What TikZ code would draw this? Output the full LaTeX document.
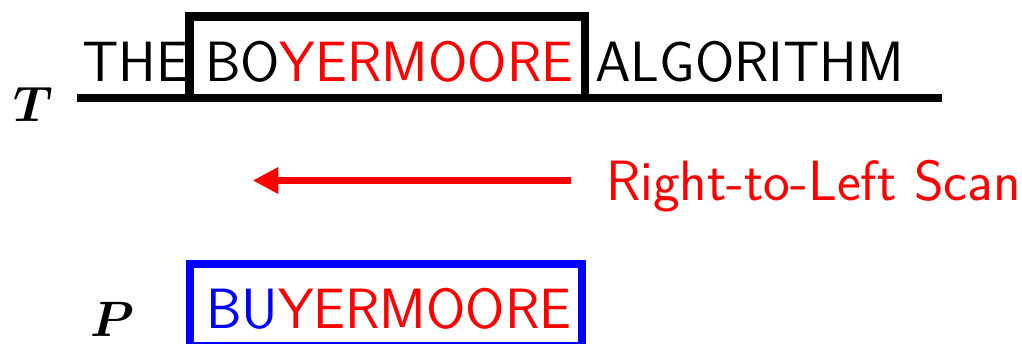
\documentclass[tikz,border=0pt]{standalone}
\usepackage{bm}
\usetikzlibrary{arrows.meta}
\begin{document}
\begin{tikzpicture}[x=0.5pt,y=-0.5pt,
  txt/.style={inner sep=0pt,outer sep=0pt,anchor=base west,font=\fontsize{28.4}{34}\selectfont\sffamily},
  lbl/.style={inner sep=0pt,outer sep=0pt,anchor=base west,font=\fontsize{27}{32}\selectfont},
  textline/.style={line width=3.75pt},
  winbox/.style={line width=4.2pt},
  scanarrow/.style={red,line width=3.85pt,-{Triangle[length=12.8pt,width=12.5pt]}}]
\useasboundingbox (0,0) rectangle (1022,343);
\clip (0,0) rectangle (1022,343);
% text T
\node[lbl] (T) at (13,121) {$\bm{T}$};
\coordinate (lineL) at (77,98);
\coordinate (lineR) at (942,98);
\draw[textline] (lineL) -- (lineR);
\draw[winbox] (189.5,16.5) rectangle (585,98);
\node[txt] (the) at (82,81.7) {THE};
\node[txt] (boyer) at (205,81.7) {BO\textcolor{red}{YERMOORE}};
\node[txt] (algo) at (595,81.7) {ALGORITHM};
% scan arrow
\coordinate (tail) at (570.7,180.5);
\coordinate (tip) at (252.7,180.5);
\draw[scanarrow] (tail) -- (tip);
\node[txt,text=red] (scan) at (606,200) {Right-to-Left Scan};
% pattern
\node[lbl] (P) at (90,336.5) {$\bm{P}$};
\draw[winbox,blue] (190,264) rectangle (582,346);
\node[txt] (pat) at (206,328.3) {\textcolor{blue}{BU}\textcolor{red}{YERMOORE}};
\end{tikzpicture}
\end{document}
